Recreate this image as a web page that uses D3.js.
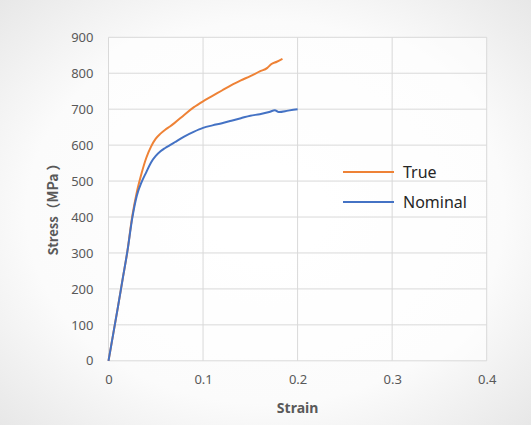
<!DOCTYPE html>
<html>
<head>
<meta charset="utf-8">
<script src="https://cdn.jsdelivr.net/npm/d3@7"></script>
<style>
  body { margin: 0; background: #fff; }
  svg { display: block; }
</style>
</head>
<body>
<div class="svg-container"></div>
<script>
const widthSVG = 531;
const heightSVG = 425;

// datos
const trueStrain = [0, 0.005, 0.010, 0.015, 0.020, 0.025, 0.030, 0.035, 0.040, 0.045, 0.050, 0.055, 0.060, 0.065, 0.070, 0.080, 0.090, 0.100, 0.110, 0.120, 0.130, 0.140, 0.150, 0.160, 0.168, 0.172, 0.178, 0.184];
const trueStress = [0, 75, 150, 228, 305, 400, 470, 522, 565, 596, 618, 632, 643, 652, 662, 684, 705, 722, 737, 752, 767, 780, 792, 805, 815, 825, 832, 840];

const nominalStrain = [0, 0.005, 0.010, 0.015, 0.020, 0.025, 0.030, 0.035, 0.040, 0.045, 0.050, 0.055, 0.060, 0.065, 0.070, 0.080, 0.090, 0.100, 0.110, 0.120, 0.130, 0.140, 0.150, 0.160, 0.170, 0.176, 0.180, 0.190, 0.200];
const nominalStress = [0, 75, 150, 228, 305, 395, 460, 497, 525, 552, 570, 583, 592, 600, 608, 624, 637, 648, 655, 661, 668, 675, 682, 686, 692, 697, 692, 696, 700];

const xTicks = [0, 0.1, 0.2, 0.3, 0.4];
const yTicks = [0, 100, 200, 300, 400, 500, 600, 700, 800, 900];
const seriesNames = ['True', 'Nominal'];
const seriesColors = ['#EE8236', '#4472C4'];

const plotLeft = 108.5, plotRight = 486.7, plotTop = 37.3, plotBottom = 360.8;

const svg = d3.select('.svg-container')
  .append('svg')
  .attr('width', widthSVG)
  .attr('height', heightSVG);

// fondo con degradado suave
const defs = svg.append('defs');
const grad = defs.append('radialGradient')
  .attr('id', 'bg')
  .attr('cx', '50%').attr('cy', '50%').attr('r', '75%');
grad.append('stop').attr('offset', '0%').attr('stop-color', '#ffffff');
grad.append('stop').attr('offset', '60%').attr('stop-color', '#fbfbfb');
grad.append('stop').attr('offset', '100%').attr('stop-color', '#e4e4e4');

svg.append('rect')
  .attr('width', widthSVG)
  .attr('height', heightSVG)
  .attr('fill', 'url(#bg)');

const x = d3.scaleLinear().domain([0, 0.4]).range([plotLeft, plotRight]);
const y = d3.scaleLinear().domain([0, 900]).range([plotBottom, plotTop]);

svg.append('rect')
  .attr('x', plotLeft).attr('y', plotTop)
  .attr('width', plotRight - plotLeft).attr('height', plotBottom - plotTop)
  .attr('fill', '#fff').attr('fill-opacity', 0.6);

// rejilla
svg.append('g')
  .selectAll('line')
  .data(yTicks)
  .enter().append('line')
  .attr('x1', plotLeft).attr('x2', plotRight)
  .attr('y1', d => y(d)).attr('y2', d => y(d))
  .attr('stroke', '#d9d9d9')
  .attr('stroke-width', 1);

svg.append('g')
  .selectAll('line')
  .data(xTicks)
  .enter().append('line')
  .attr('x1', d => x(d)).attr('x2', d => x(d))
  .attr('y1', plotTop).attr('y2', plotBottom)
  .attr('stroke', '#d9d9d9')
  .attr('stroke-width', 1);

// ejes
const xAxis = svg.append('g')
  .attr('transform', `translate(0,${plotBottom})`)
  .call(d3.axisBottom(x).tickValues(xTicks).tickSize(0).tickPadding(14)
    .tickFormat(d => d === 0 ? '0' : d3.format('.1f')(d)));
const yAxis = svg.append('g')
  .attr('transform', `translate(${plotLeft},0)`)
  .call(d3.axisLeft(y).tickValues(yTicks).tickSize(0).tickPadding(15));

[xAxis, yAxis].forEach(a => {
  a.select('.domain').remove();
  a.selectAll('text')
    .attr('fill', '#595959')
    .style('font-family', '"Noto Sans", "Open Sans", sans-serif')
    .style('font-size', '13px');
});

svg.append('text')
  .attr('x', (plotLeft + plotRight) / 2)
  .attr('y', 413)
  .attr('text-anchor', 'middle')
  .attr('fill', '#595959')
  .style('font-family', '"Noto Sans", "Open Sans", sans-serif')
  .style('font-weight', 'bold')
  .style('font-size', '14px')
  .text('Strain');

const yTitle = svg.append('text')
  .attr('transform', `translate(58,206) rotate(-90)`)
  .attr('text-anchor', 'middle')
  .attr('fill', '#595959')
  .style('font-family', '"Noto Sans CJK SC", "Noto Sans", sans-serif')
  .style('font-weight', 'bold')
  .style('font-size', '13px');
yTitle.append('tspan').text('Stress');
yTitle.append('tspan')
  .style('font-size', '14px')
  .text('（MPa');
yTitle.append('tspan')
  .attr('dx', 3)
  .style('font-size', '14px')
  .text('）');

// curvas
const series = [
  trueStrain.map((s, i) => [s, trueStress[i]]),
  nominalStrain.map((s, i) => [s, nominalStress[i]])
];

const line = d3.line()
  .x(d => x(d[0]))
  .y(d => y(d[1]))
  .curve(d3.curveMonotoneX);

svg.append('g')
  .selectAll('path')
  .data(series)
  .enter().append('path')
  .attr('d', line)
  .attr('fill', 'none')
  .attr('stroke', (d, i) => seriesColors[i])
  .attr('stroke-width', 2)
  .attr('stroke-linejoin', 'round');

// leyenda
const legend = svg.append('g')
  .selectAll('g')
  .data(seriesNames)
  .enter().append('g')
  .attr('transform', (d, i) => `translate(343,${172 + i * 30})`);

legend.append('line')
  .attr('x1', 0).attr('x2', 51)
  .attr('stroke', (d, i) => seriesColors[i])
  .attr('stroke-width', 2);

legend.append('text')
  .attr('x', 60)
  .attr('dy', '0.35em')
  .attr('fill', '#262626')
  .style('font-family', '"Noto Sans", "Open Sans", sans-serif')
  .style('font-size', '16px')
  .text(d => d);
</script>
</body>
</html>
